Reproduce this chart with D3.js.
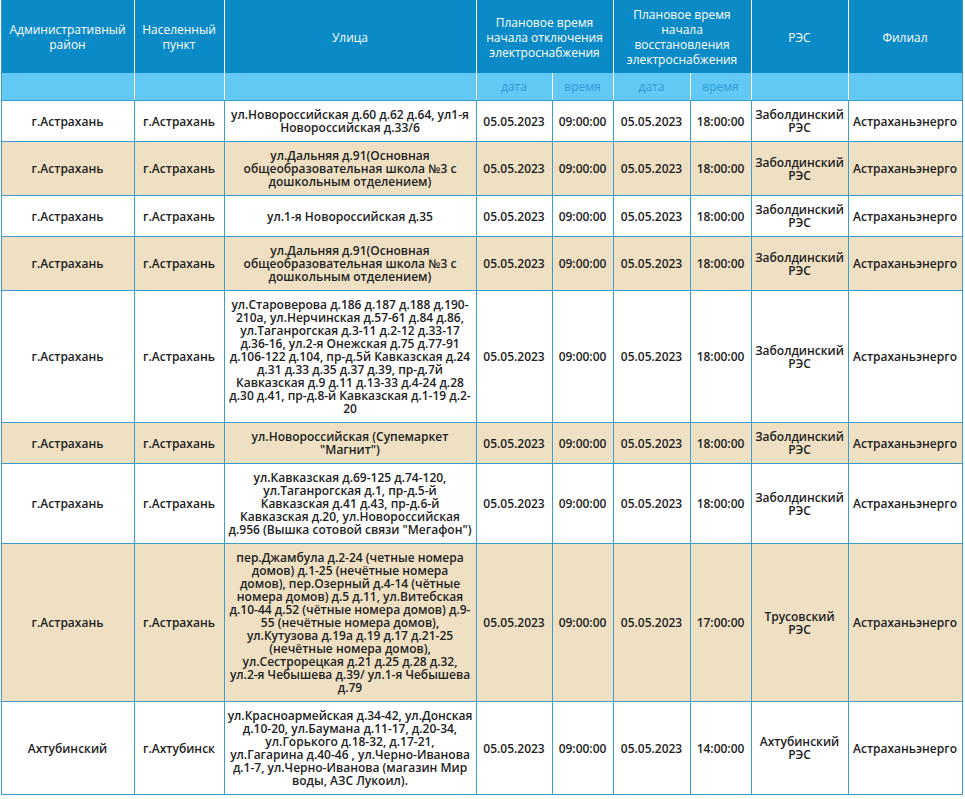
<!DOCTYPE html>
<meta charset="utf-8">
<style>
body { margin: 0; background: #fff; }
text { font-family: "Open Sans", sans-serif; font-size: 12px; }
.hdr { fill: #fff; }
.sub { fill: #2f9bd9; }
.cell { fill: #222; font-weight: 600; }
</style>
<svg width="965" height="799"></svg>
<script src="https://d3js.org/d3.v7.min.js"></script>
<script>
// table contents
var headers = [
  ["Административный", "район"],
  ["Населенный", "пункт"],
  ["Улица"],
  ["Плановое время", "начала отключения", "электроснабжения"],
  ["Плановое время", "начала", "восстановления", "электроснабжения"],
  ["РЭС"],
  ["Филиал"]
];
var subHeaders = ["", "", "", "дата", "время", "дата", "время", "", ""];

var districts = ["г.Астрахань", "г.Астрахань", "г.Астрахань", "г.Астрахань", "г.Астрахань",
  "г.Астрахань", "г.Астрахань", "г.Астрахань", "Ахтубинский"];
var settlements = ["г.Астрахань", "г.Астрахань", "г.Астрахань", "г.Астрахань", "г.Астрахань",
  "г.Астрахань", "г.Астрахань", "г.Астрахань", "г.Ахтубинск"];
var streets = [
  ["ул.Новороссийская д.60 д.62 д.64, ул1-я", "Новороссийская д.33/6"],
  ["ул.Дальняя д.91(Основная", "общеобразовательная школа №3 с", "дошкольным отделением)"],
  ["ул.1-я Новороссийская д.35"],
  ["ул.Дальняя д.91(Основная", "общеобразовательная школа №3 с", "дошкольным отделением)"],
  ["ул.Староверова д.186 д.187 д.188 д.190-", "210а, ул.Нерчинская д.57-61 д.84 д.86,",
   "ул.Таганрогская д.3-11 д.2-12 д.33-17", "д.36-16, ул.2-я Онежская д.75 д.77-91",
   "д.106-122 д.104, пр-д.5й Кавказская д.24", "д.31 д.33 д.35 д.37 д.39, пр-д.7й",
   "Кавказская д.9 д.11 д.13-33 д.4-24 д.28", "д.30 д.41, пр-д.8-й Кавказская д.1-19 д.2-", "20"],
  ["ул.Новороссийская (Супемаркет", "\"Магнит\")"],
  ["ул.Кавказская д.69-125 д.74-120,", "ул.Таганрогская д.1, пр-д.5-й", "Кавказская д.41 д.43, пр-д.6-й",
   "Кавказская д.20, ул.Новороссийская", "д.956 (Вышка сотовой связи \"Мегафон\")"],
  ["пер.Джамбула д.2-24 (четные номера", "домов) д.1-25 (нечётные номера", "домов), пер.Озерный д.4-14 (чётные",
   "номера домов) д.5 д.11, ул.Витебская", "д.10-44 д.52 (чётные номера домов) д.9-", "55 (нечётные номера домов),",
   "ул.Кутузова д.19а д.19 д.17 д.21-25", "(нечётные номера домов),", "ул.Сестрорецкая д.21 д.25 д.28 д.32,",
   "ул.2-я Чебышева д.39/ ул.1-я Чебышева", "д.79"],
  ["ул.Красноармейская д.34-42, ул.Донская", "д.10-20, ул.Баумана д.11-17, д.20-34,", "ул.Горького д.18-32, д.17-21,",
   "ул.Гагарина д.40-46 , ул.Черно-Иванова", "д.1-7, ул.Черно-Иванова (магазин Мир", "воды, АЗС Лукоил)."]
];
var offDates = ["05.05.2023", "05.05.2023", "05.05.2023", "05.05.2023", "05.05.2023", "05.05.2023", "05.05.2023", "05.05.2023", "05.05.2023"];
var offTimes = ["09:00:00", "09:00:00", "09:00:00", "09:00:00", "09:00:00", "09:00:00", "09:00:00", "09:00:00", "09:00:00"];
var onDates = ["05.05.2023", "05.05.2023", "05.05.2023", "05.05.2023", "05.05.2023", "05.05.2023", "05.05.2023", "05.05.2023", "05.05.2023"];
var onTimes = ["18:00:00", "18:00:00", "18:00:00", "18:00:00", "18:00:00", "18:00:00", "18:00:00", "17:00:00", "14:00:00"];
var resNames = [
  ["Заболдинский", "РЭС"], ["Заболдинский", "РЭС"], ["Заболдинский", "РЭС"], ["Заболдинский", "РЭС"],
  ["Заболдинский", "РЭС"], ["Заболдинский", "РЭС"], ["Заболдинский", "РЭС"], ["Трусовский", "РЭС"],
  ["Ахтубинский", "РЭС"]
];
var branches = ["Астраханьэнерго", "Астраханьэнерго", "Астраханьэнерго", "Астраханьэнерго", "Астраханьэнерго",
  "Астраханьэнерго", "Астраханьэнерго", "Астраханьэнерго", "Астраханьэнерго"];

// layout
var colWidths = [133, 90, 252, 76, 61, 77, 61, 97, 114];
var left = 1, headH = 73, subH = 27, lineH = 13, headLineH = 15, pad = 15;
var grid = "#3a9ccf", stripe = "#efe0c3";

var svg = d3.select("svg");

var edges = [left];
colWidths.forEach(function(w) { edges.push(edges[edges.length - 1] + w); });
var colMid = function(i) { return (edges[i] + edges[i + 1]) / 2; };

var rows = districts.map(function(d, i) {
  return [[d], [settlements[i]], streets[i], [offDates[i]], [offTimes[i]],
          [onDates[i]], [onTimes[i]], resNames[i], [branches[i]]];
});
var rowHeights = rows.map(function(r) {
  return d3.max(r, function(c) { return c.length; }) * lineH + pad;
});
var rowTops = [headH + subH];
rowHeights.forEach(function(h) { rowTops.push(rowTops[rowTops.length - 1] + h); });
var bottom = rowTops[rowTops.length - 1];

// header cells (spanning columns)
var headSpans = [[0, 1], [1, 2], [2, 3], [3, 5], [5, 7], [7, 8], [8, 9]];

svg.append("rect")
  .attr("x", left).attr("y", 0)
  .attr("width", edges[9] - left).attr("height", headH)
  .attr("fill", "#0a8ac6");
svg.append("rect")
  .attr("x", left).attr("y", headH)
  .attr("width", edges[9] - left).attr("height", subH)
  .attr("fill", "#62c8f4");

function lines(g, arr, cx, cy, cls, lh) {
  lh = lh || lineH;
  g.selectAll(null)
    .data(arr)
    .enter().append("text")
    .attr("class", cls)
    .attr("x", cx)
    .attr("y", function(d, k) { return cy + (k - (arr.length - 1) / 2) * lh; })
    .attr("dy", "0.35em")
    .attr("text-anchor", "middle")
    .text(function(d) { return d; });
}

var hg = svg.append("g");
headSpans.forEach(function(s, i) {
  lines(hg, headers[i], (edges[s[0]] + edges[s[1]]) / 2, headH / 2 + 1, "hdr", headLineH);
});
subHeaders.forEach(function(t, i) {
  if (t) lines(hg, [t], colMid(i), headH + subH / 2, "sub");
});

// body rows
var body = svg.append("g");
rows.forEach(function(r, i) {
  body.append("rect")
    .attr("x", left).attr("y", rowTops[i])
    .attr("width", edges[9] - left).attr("height", rowHeights[i])
    .attr("fill", i % 2 ? stripe : "#fff");
  r.forEach(function(c, j) {
    lines(body, c, colMid(j), rowTops[i] + rowHeights[i] / 2 + 1, "cell");
  });
});

// grid lines
var gl = svg.append("g").attr("shape-rendering", "crispEdges");
// white separators in header
[1, 2, 3, 5, 7, 8].forEach(function(k) {
  gl.append("line").attr("x1", edges[k] + 0.5).attr("x2", edges[k] + 0.5)
    .attr("y1", 0).attr("y2", headH + subH).attr("stroke", "#fff").attr("stroke-width", 1.5);
});
[4, 6].forEach(function(k) {
  gl.append("line").attr("x1", edges[k] + 0.5).attr("x2", edges[k] + 0.5)
    .attr("y1", headH).attr("y2", headH + subH).attr("stroke", "#fff").attr("stroke-width", 1.5);
});
// blue body lines
d3.range(0, 10).forEach(function(k) {
  gl.append("line").attr("x1", edges[k] + 0.5).attr("x2", edges[k] + 0.5)
    .attr("y1", (k === 0 || k === 9) ? 0 : headH + subH).attr("y2", bottom + 1)
    .attr("stroke", grid).attr("stroke-width", 1.5);
});
rowTops.forEach(function(y) {
  gl.append("line").attr("x1", left).attr("x2", edges[9] + 1)
    .attr("y1", y + 0.5).attr("y2", y + 0.5)
    .attr("stroke", grid).attr("stroke-width", 1.5);
});
</script>
